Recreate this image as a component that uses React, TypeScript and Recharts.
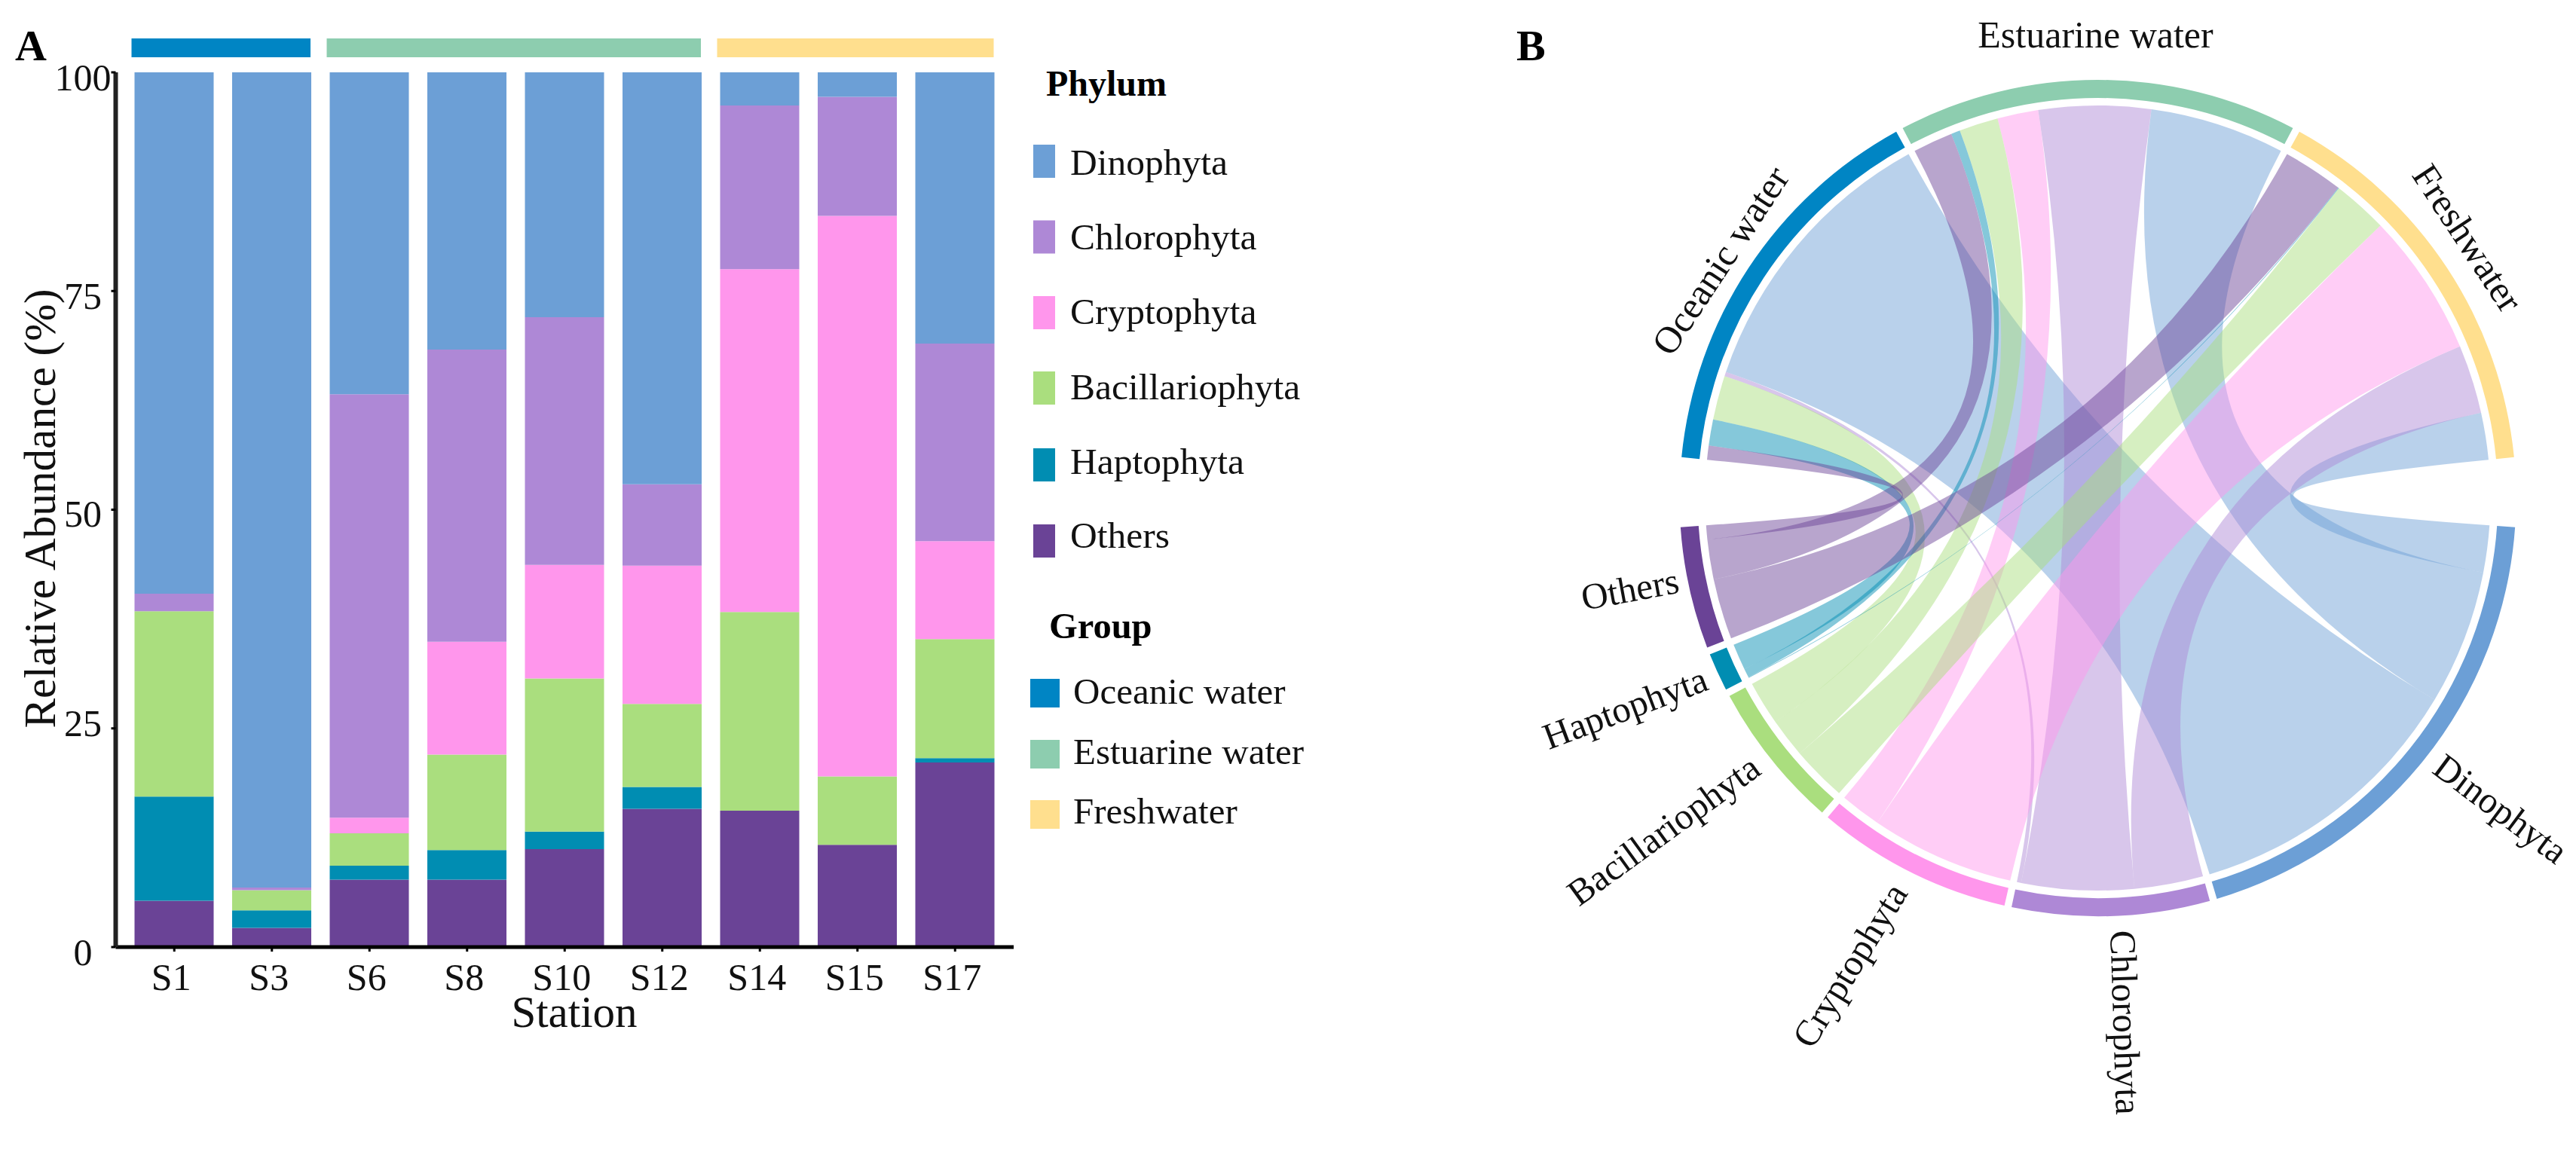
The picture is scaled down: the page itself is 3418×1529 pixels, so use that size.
import React from 'react';
import { BarChart, Bar, XAxis, YAxis, PieChart, Pie, Cell } from 'recharts';

const FONT = '"Liberation Serif", serif';

// panel A
const stations = ['S1', 'S3', 'S6', 'S8', 'S10', 'S12', 'S14', 'S15', 'S17'];
const stationGroups = [0, 0, 1, 1, 1, 1, 2, 2, 2];
const others = [5.3, 2.2, 7.7, 7.7, 11.2, 15.8, 15.6, 11.7, 21.1];
const haptophyta = [11.9, 2.0, 1.6, 3.4, 2.0, 2.5, 0, 0, 0.5];
const bacillariophyta = [21.2, 2.3, 3.7, 10.9, 17.5, 9.5, 22.7, 7.8, 13.6];
const cryptophyta = [0, 0, 1.8, 12.9, 13.0, 15.8, 39.2, 64.1, 11.2];
const chlorophyta = [2.0, 0.3, 48.4, 33.4, 28.3, 9.3, 18.7, 13.6, 22.6];
const dinophyta = [59.6, 93.2, 36.8, 31.7, 28.0, 47.1, 3.8, 2.8, 31.0];
const yTicks = [0, 25, 50, 75, 100];

// panel B, one value per phylum in the order of `phyla`
const phyla = ['Dinophyta', 'Chlorophyta', 'Cryptophyta', 'Bacillariophyta', 'Haptophyta', 'Others'];
const groups = ['Oceanic water', 'Estuarine water', 'Freshwater'];
const oceanicFlows = [76.4, 1.15, 0, 11.75, 6.95, 3.75];
const estuarineFlows = [35.9, 29.85, 10.9, 10.4, 2.4, 10.6];
const freshwaterFlows = [12.5, 18.3, 38.2, 14.7, 0.2, 16.1];

const phylumColors = ['#6C9FD6', '#AE88D6', '#FF96EC', '#AADE7E', '#008DB2', '#6A4396'];
const groupColors = ['#0085C4', '#8DCDAF', '#FFDF8E'];

const flows = [oceanicFlows, estuarineFlows, freshwaterFlows];
const barData = stations.map((station, i) => ({
  station,
  group: stationGroups[i],
  Others: others[i],
  Haptophyta: haptophyta[i],
  Bacillariophyta: bacillariophyta[i],
  Cryptophyta: cryptophyta[i],
  Chlorophyta: chlorophyta[i],
  Dinophyta: dinophyta[i],
  strip: 1,
}));
const stackOrder = ['Others', 'Haptophyta', 'Bacillariophyta', 'Cryptophyta', 'Chlorophyta', 'Dinophyta'];

const sum = (xs: number[]) => xs.reduce((a, b) => a + b, 0);
const phylumData = phyla.map((name, p) => ({ name, value: sum(flows.map((f) => f[p])) }));
const groupData = groups.map((name, g) => ({ name, value: sum(flows[g]) }));

// ring layout, degrees clockwise from east
const PHYLUM_SPAN = [4, 176];
const GROUP_SPAN = [185.6, 354.4];
const PAD = 1;
const CX = 983.5;
const CY = 661;
const RING_OUTER = 555;
const RING_INNER = 531;
const R = 521;

const unitAngle = (span: number[], n: number) => (span[1] - span[0] - (n - 1) * PAD) / sum(phylumData.map((d) => d.value));

const polar = (deg: number, r: number) => {
  const t = (deg * Math.PI) / 180;
  return [CX + r * Math.cos(t), CY + r * Math.sin(t)];
};

// link edge: quadratic curve whose lowest point sits half way to the centre, less for wide links
const linkTo = (a: number, b: number) => {
  const ta = (a * Math.PI) / 180;
  const tb = (b * Math.PI) / 180;
  const mean = (Math.atan2(Math.sin(ta) + Math.sin(tb), Math.cos(ta) + Math.cos(tb)) * 180) / Math.PI;
  let diff = Math.abs(a - b) % 360;
  if (diff > 180) diff = 360 - diff;
  const half = Math.cos(((diff / 2) * Math.PI) / 180);
  const apex = 0.5 * R * half;
  const [cx, cy] = polar(mean, 2 * apex - R * half);
  const [x, y] = polar(b, R);
  return `Q ${cx} ${cy} ${x} ${y}`;
};

const ribbonPath = (a0: number, a1: number, b0: number, b1: number) => {
  const arc = (deg: number) => {
    const [x, y] = polar(deg, R);
    return `A ${R} ${R} 0 0 1 ${x} ${y}`;
  };
  const [sx, sy] = polar(a0, R);
  return `M ${sx} ${sy} ${arc(a1)} ${linkTo(a1, b0)} ${arc(b1)} ${linkTo(b1, a0)} Z`;
};

const ChordRibbons = () => {
  const gUnit = unitAngle(GROUP_SPAN, groups.length);
  const pUnit = unitAngle(PHYLUM_SPAN, phyla.length);
  // start angle of each link on the group side: Others first, Dinophyta last
  const gStart: number[][] = [];
  let cursor = GROUP_SPAN[0];
  groups.forEach((_, g) => {
    gStart[g] = [];
    for (let p = phyla.length - 1; p >= 0; p--) {
      gStart[g][p] = cursor;
      cursor += flows[g][p] * gUnit;
    }
    cursor += PAD;
  });
  // on the phylum side: Freshwater first, Oceanic last
  const links: React.ReactNode[] = [];
  cursor = PHYLUM_SPAN[0];
  phyla.forEach((name, p) => {
    for (let g = groups.length - 1; g >= 0; g--) {
      const v = flows[g][p];
      if (v > 0) {
        links.push(
          <path
            key={`${name}-${g}`}
            d={ribbonPath(gStart[g][p], gStart[g][p] + v * gUnit, cursor, cursor + v * pUnit)}
            fill={phylumColors[p]}
            fillOpacity={0.48}
          />,
        );
      }
      cursor += v * pUnit;
    }
    cursor += PAD;
  });
  return <g>{links}</g>;
};

// hand placement of the ring labels, the reference is not quite regular here
const labelTweaks: Record<string, number[]> = {
  Dinophyta: [7, -6, -2],
  Chlorophyta: [15, 4, 0],
  Cryptophyta: [-10, 6, 5],
  Bacillariophyta: [-8, -3, 2.5],
  Haptophyta: [-2, 1, 4],
  Others: [0, -14, 2],
  'Oceanic water': [0, 15, 0],
  'Estuarine water': [-3, -15, 0],
  Freshwater: [-10, -15, 0],
};

const ringLabel = (r: number, radial: boolean, fontSize: number) => (props: any) => {
  const deg = -props.midAngle;
  const [px, py] = polar(deg, r);
  const [dx, dy, dr] = labelTweaks[props.name] || [0, 0, 0];
  const x = px + dx;
  const y = py + dy;
  let rotation = deg + 90;
  let anchor = 'middle';
  if (radial) {
    const left = Math.cos((deg * Math.PI) / 180) < 0;
    rotation = (left ? deg - 180 : deg) + dr;
    anchor = left ? 'end' : 'start';
  }
  return (
    <text
      x={x}
      y={y}
      transform={`rotate(${rotation} ${x} ${y})`}
      textAnchor={anchor}
      dominantBaseline="central"
      fontFamily={FONT}
      fontSize={fontSize}
      fill="#111"
    >
      {props.name}
    </text>
  );
};

const tickNudge: Record<number, number> = { 25: -14, 50: -2 };

const YTick = ({ y, payload }: any) => (
  <text x={110} y={y + 24 + (tickNudge[payload.value] || 0)} textAnchor="middle" fontFamily={FONT} fontSize={50} fill="#111">
    {payload.value}
  </text>
);

const XTick = ({ x, y, payload }: any) => (
  <text x={x - 4} y={y + 49} textAnchor="middle" fontFamily={FONT} fontSize={50} fill="#111">
    {payload.value}
  </text>
);

// one cell per station, inset only where a group starts or ends
const StripCell = ({ x, y, width, height, index }: any) => {
  const g = stationGroups[index];
  const left = index === 0 || stationGroups[index - 1] !== g ? 8 : 0;
  const right = index === stations.length - 1 || stationGroups[index + 1] !== g ? 14 : 0;
  return <rect x={x + left} y={y} width={width - left - right} height={height} fill={groupColors[g]} />;
};

const swatchRows = [192, 292.5, 393, 493, 595, 696];
const textRows = [232, 331, 430, 530, 629, 727];
const groupRows = [901, 982, 1062];
const groupTextRows = [934, 1014, 1093];

const FigureLegend = () => (
  <svg width={3418} height={1529} style={{ position: 'absolute', left: 0, top: 0 }} fontFamily={FONT} fill="#111">
    <text x={20} y={80} fontSize={58} fontWeight="bold" fill="#000">A</text>
    <text x={2012} y={80} fontSize={58} fontWeight="bold" fill="#000">B</text>
    <text x={1388} y={127} fontSize={48} fontWeight="bold" fill="#000">Phylum</text>
    {phyla.map((name, i) => (
      <g key={name}>
        <rect x={1371} y={swatchRows[i]} width={29} height={44} fill={phylumColors[i]} />
        <text x={1420} y={textRows[i]} fontSize={49.5}>{name}</text>
      </g>
    ))}
    <text x={1392} y={847} fontSize={48.5} fontWeight="bold" fill="#000">Group</text>
    {groups.map((name, i) => (
      <g key={name}>
        <rect x={1367} y={groupRows[i]} width={39} height={38} fill={groupColors[i]} />
        <text x={1424} y={groupTextRows[i]} fontSize={49}>{name}</text>
      </g>
    ))}
  </svg>
);

export default function App() {
  return (
    <div style={{ position: 'absolute', left: 0, top: 0, width: 3418, height: 1529, background: '#fff' }}>
      <FigureLegend />

      <div style={{ position: 'absolute', left: 0, top: 51 }}>
        <BarChart width={1400} height={25} data={barData} barCategoryGap={0} margin={{ top: 0, right: 55, bottom: 0, left: 153.5 }}>
          <XAxis dataKey="station" hide padding={{ left: 13, right: 13 }} />
          <YAxis hide domain={[0, 1]} />
          <Bar dataKey="strip" isAnimationActive={false} shape={<StripCell />} />
        </BarChart>
      </div>

      <div style={{ position: 'absolute', left: 0, top: 0 }}>
        <BarChart width={1400} height={1400} data={barData} barSize={105} margin={{ top: 96, right: 55, bottom: 37, left: 0 }}>
          <text x={73} y={675} transform="rotate(-90 73 675)" textAnchor="middle" fontFamily={FONT} fontSize={59.3} fill="#111">
            Relative Abundance (%)
          </text>
          <text x={762} y={1363} textAnchor="middle" fontFamily={FONT} fontSize={59} fill="#111">
            Station
          </text>
          <XAxis
            dataKey="station"
            height={106}
            interval={0}
            padding={{ left: 13, right: 13 }}
            axisLine={{ stroke: '#000', strokeWidth: 5 }}
            tickLine={{ stroke: '#000', strokeWidth: 3 }}
            tickSize={6}
            tick={<XTick />}
          />
          <YAxis
            width={153.5}
            domain={[0, 100]}
            ticks={yTicks}
            axisLine={{ stroke: '#222', strokeWidth: 6 }}
            tickLine={{ stroke: '#000', strokeWidth: 3 }}
            tickSize={6}
            tick={<YTick />}
          />
          {stackOrder.map((key) => (
            <Bar
              key={key}
              dataKey={key}
              stackId="a"
              fill={phylumColors[phyla.indexOf(key)]}
              isAnimationActive={false}
            />
          ))}
        </BarChart>
      </div>

      <div style={{ position: 'absolute', left: 1800, top: 0 }}>
        <PieChart width={1618} height={1529} margin={{ top: 0, right: 0, bottom: 0, left: 0 }}>
          <ChordRibbons />
          <Pie
            data={phylumData}
            dataKey="value"
            nameKey="name"
            cx={CX}
            cy={CY}
            innerRadius={RING_INNER}
            outerRadius={RING_OUTER}
            startAngle={-PHYLUM_SPAN[0]}
            endAngle={-PHYLUM_SPAN[1]}
            paddingAngle={PAD}
            stroke="none"
            labelLine={false}
            label={ringLabel(570, true, 49)}
            isAnimationActive={false}
          >
            {phylumData.map((d, i) => (
              <Cell key={d.name} fill={phylumColors[i]} />
            ))}
          </Pie>
          <Pie
            data={groupData}
            dataKey="value"
            nameKey="name"
            cx={CX}
            cy={CY}
            innerRadius={RING_INNER}
            outerRadius={RING_OUTER}
            startAngle={-GROUP_SPAN[0]}
            endAngle={-GROUP_SPAN[1]}
            paddingAngle={PAD}
            stroke="none"
            labelLine={false}
            label={ringLabel(600, false, 50)}
            isAnimationActive={false}
          >
            {groupData.map((d, i) => (
              <Cell key={d.name} fill={groupColors[i]} />
            ))}
          </Pie>
        </PieChart>
      </div>
    </div>
  );
}
